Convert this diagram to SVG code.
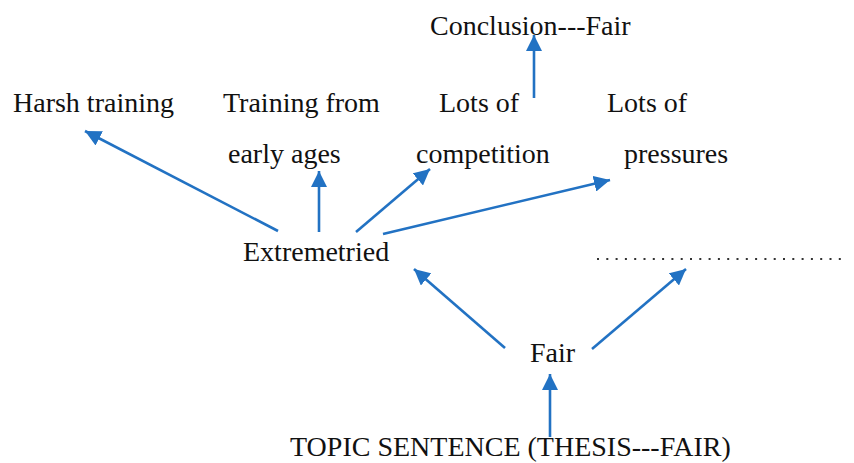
<svg xmlns="http://www.w3.org/2000/svg" width="854" height="463" viewBox="0 0 854 463">
<style>
text{font-family:"Liberation Serif","Times New Roman",serif;font-size:28px;fill:#111}
.c{stroke:#2272c3;stroke-width:2.6;fill:none;marker-end:url(#ah)}
</style>
<defs>
<marker id="ah" markerUnits="userSpaceOnUse" markerWidth="18" markerHeight="16" refX="16" refY="8" orient="auto">
<path d="M0,0 L16,8 L0,16 Z" fill="#2272c3"/>
</marker>
</defs>
<rect width="854" height="463" fill="#fff"/>
<g id="connectors">
<line class="c" x1="278" y1="231" x2="85" y2="131"/>
<line class="c" x1="319" y1="232" x2="319" y2="171"/>
<line class="c" x1="356" y1="232" x2="430" y2="169"/>
<line class="c" x1="383" y1="234" x2="610" y2="180"/>
<line class="c" x1="534" y1="98" x2="534" y2="35"/>
<line class="c" x1="505" y1="348" x2="414" y2="269"/>
<line class="c" x1="592" y1="349" x2="686" y2="269"/>
<line class="c" x1="550" y1="437" x2="550" y2="374"/>
</g>
<g id="conclusion"><text x="430" y="35">Conclusion---Fair</text></g>
<g id="harsh"><text x="13" y="112">Harsh training</text></g>
<g id="training"><text x="223" y="112">Training from</text><text x="228" y="163">early ages</text></g>
<g id="competition"><text x="439" y="112">Lots of</text><text x="416" y="163">competition</text></g>
<g id="pressures"><text x="607" y="112">Lots of</text><text x="624" y="163">pressures</text></g>
<g id="extremetried"><text x="243" y="261">Extremetried</text></g>
<g id="dotted"><line x1="597" y1="259" x2="848" y2="259" stroke="#333" stroke-width="2" stroke-dasharray="2 7.3"/></g>
<g id="fair"><text x="530" y="362">Fair</text></g>
<g id="topic"><text x="290" y="456">TOPIC SENTENCE (THESIS---FAIR)</text></g>
</svg>
